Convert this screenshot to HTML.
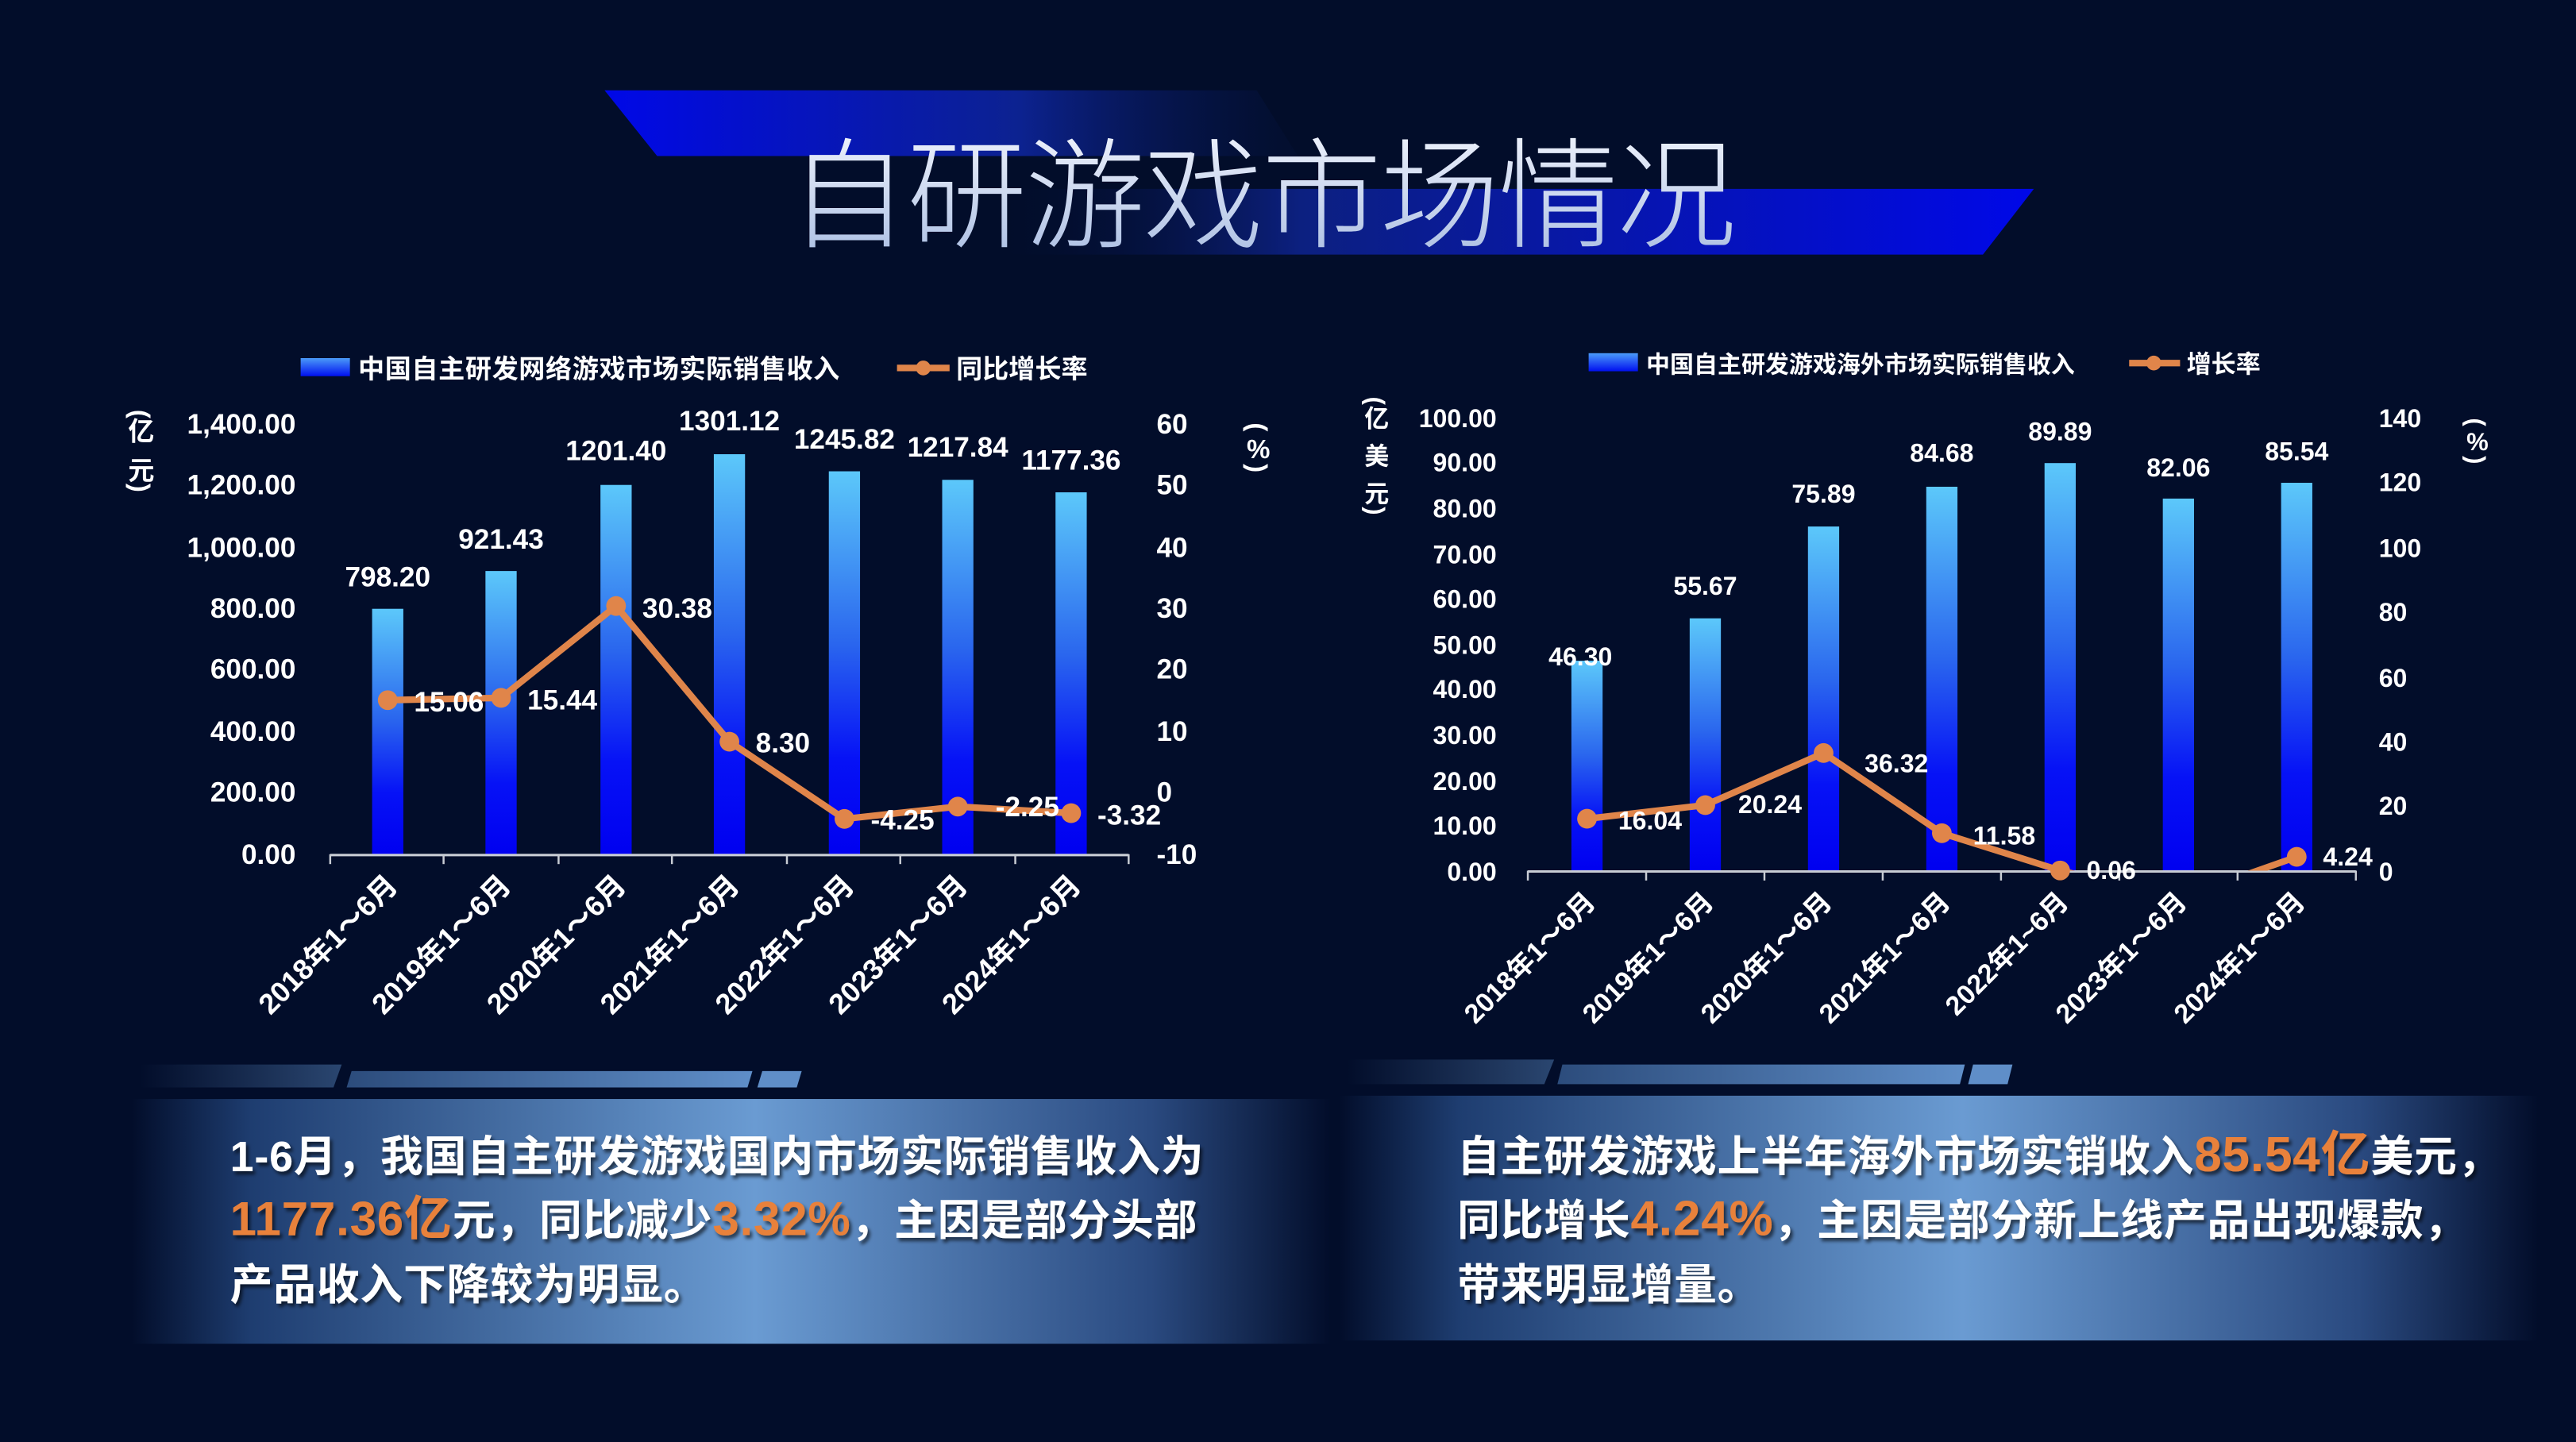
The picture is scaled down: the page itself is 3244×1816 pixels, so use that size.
<!DOCTYPE html>
<html><head><meta charset="utf-8"><style>
html,body{margin:0;padding:0;background:#020d2a;}
svg{display:block}
text{font-family:"Liberation Sans","Noto Sans CJK SC",sans-serif;}
</style></head><body>
<svg width="3244" height="1816" viewBox="0 0 1568 877.8" preserveAspectRatio="none" xmlns="http://www.w3.org/2000/svg">
<defs>
<linearGradient id="ban1" x1="0" x2="1" y1="0" y2="0"><stop offset="0" stop-color="#0008e8"/><stop offset="0.6" stop-color="#0c2290"/><stop offset="1" stop-color="#041238" stop-opacity="0.3"/></linearGradient>
<linearGradient id="ban2" x1="0" x2="1" y1="0" y2="0"><stop offset="0" stop-color="#020d2a" stop-opacity="0"/><stop offset="0.3" stop-color="#0c2080"/><stop offset="1" stop-color="#0008e8"/></linearGradient>
<linearGradient id="ttl" x1="0" x2="0" y1="0" y2="1"><stop offset="0" stop-color="#eef2fc"/><stop offset="1" stop-color="#a9bde2"/></linearGradient>
<linearGradient id="bar" x1="0" x2="0" y1="0" y2="1"><stop offset="0" stop-color="#5cc8fa"/><stop offset="0.45" stop-color="#2a66ee"/><stop offset="0.75" stop-color="#0612f6"/><stop offset="1" stop-color="#0000f0"/></linearGradient>
<linearGradient id="leg" x1="0" x2="0" y1="0" y2="1"><stop offset="0" stop-color="#4a9af8"/><stop offset="1" stop-color="#0010f0"/></linearGradient>
<linearGradient id="pan" x1="0" x2="1" y1="0" y2="0"><stop offset="0" stop-color="#020d2a"/><stop offset="0.1" stop-color="#1e3d70"/><stop offset="0.52" stop-color="#6a9bd2"/><stop offset="0.85" stop-color="#2a4a80"/><stop offset="1" stop-color="#020d2a"/></linearGradient>
<linearGradient id="dec1" x1="0" x2="1"><stop offset="0" stop-color="#020d2a"/><stop offset="1" stop-color="#2a4670"/></linearGradient>
<linearGradient id="dec2" x1="0" x2="1"><stop offset="0" stop-color="#2c4c7c"/><stop offset="1" stop-color="#5f8ec8"/></linearGradient>
<filter id="sh"><feDropShadow dx="1.5" dy="2" stdDeviation="1" flood-color="#000" flood-opacity="0.6"/></filter>
<clipPath id="rc"><rect x="900" y="200" width="560" height="330"/></clipPath>
</defs>
<rect width="1568" height="878" fill="#020d2a"/>
<polygon points="368,55 765,55 790,95 400,95" fill="url(#ban1)"/>
<polygon points="600,115 1238,115 1207,155 600,155" fill="url(#ban2)"/>
<text x="768" y="145" text-anchor="middle" font-size="73" fill="url(#ttl)" font-weight="300" letter-spacing="-1">自研游戏市场情况</text>

<!-- LEFT CHART -->
<g font-weight="bold" fill="#fff" font-size="16">
<rect x="183" y="218" width="30" height="11" fill="url(#leg)"/>
<text x="218" y="230" font-size="16" letter-spacing="0.3">中国自主研发网络游戏市场实际销售收入</text>
<line x1="546" y1="224" x2="578" y2="224" stroke="#e0854a" stroke-width="4"/><circle cx="562" cy="224" r="4.5" fill="#e0854a"/>
<text x="582" y="230" font-size="16">同比增长率</text>
<g font-size="16" text-anchor="middle">
<text transform="translate(80,252) rotate(90)">(</text><text x="86" y="268">亿</text><text x="86" y="292">元</text><text transform="translate(80,297) rotate(90)">)</text>
<text transform="translate(760,260) rotate(90)">(</text><text x="766" y="279">%</text><text transform="translate(760,285) rotate(90)">)</text></g>
<g text-anchor="end" font-size="17">
<text x="180" y="264">1,400.00</text><text x="180" y="301">1,200.00</text><text x="180" y="339">1,000.00</text><text x="180" y="376">800.00</text><text x="180" y="413">600.00</text><text x="180" y="451">400.00</text><text x="180" y="488">200.00</text><text x="180" y="526">0.00</text>
</g>
<g font-size="17"><text x="704" y="264">60</text><text x="704" y="301">50</text><text x="704" y="339">40</text><text x="704" y="376">30</text><text x="704" y="413">20</text><text x="704" y="451">10</text><text x="704" y="488">0</text><text x="704" y="526">-10</text></g>
<g fill="url(#bar)">
<rect x="226.5" y="370.6" width="19" height="149.4"/><rect x="295.5" y="347.6" width="19" height="172.4"/><rect x="365.5" y="295.2" width="19" height="224.8"/><rect x="434.5" y="276.5" width="19" height="243.5"/><rect x="504.5" y="286.9" width="19" height="233.1"/><rect x="573.5" y="292.1" width="19" height="227.9"/><rect x="642.5" y="299.7" width="19" height="220.3"/>
</g>
<line x1="201" y1="520.5" x2="687" y2="520.5" stroke="#c8ccd4" stroke-width="1.5"/>
<g stroke="#c8ccd4" stroke-width="1.2"><line x1="201" y1="520" x2="201" y2="526"/><line x1="270" y1="520" x2="270" y2="526"/><line x1="340" y1="520" x2="340" y2="526"/><line x1="409" y1="520" x2="409" y2="526"/><line x1="479" y1="520" x2="479" y2="526"/><line x1="548" y1="520" x2="548" y2="526"/><line x1="618" y1="520" x2="618" y2="526"/><line x1="687" y1="520" x2="687" y2="526"/></g>
<g text-anchor="middle" font-size="17"><text x="236" y="357">798.20</text><text x="305" y="334">921.43</text><text x="375" y="280">1201.40</text><text x="444" y="262">1301.12</text><text x="514" y="273">1245.82</text><text x="583" y="278">1217.84</text><text x="652" y="286">1177.36</text></g>
<polyline points="236,426.2 305,424.8 375,368.9 444,451.5 514,498.5 583,491 652,495" fill="none" stroke="#e0854a" stroke-width="4" stroke-linejoin="round"/>
<g fill="#e0854a"><circle cx="236" cy="426.2" r="6"/><circle cx="305" cy="424.8" r="6"/><circle cx="375" cy="368.9" r="6"/><circle cx="444" cy="451.5" r="6"/><circle cx="514" cy="498.5" r="6"/><circle cx="583" cy="491" r="6"/><circle cx="652" cy="495" r="6"/></g>
<g font-size="17"><text x="252" y="433">15.06</text><text x="321" y="432">15.44</text><text x="391" y="376">30.38</text><text x="460" y="458">8.30</text><text x="530" y="505">-4.25</text><text x="606" y="497">-2.25</text><text x="668" y="502">-3.32</text></g>
<g font-size="17.5">
<text transform="translate(243,540) rotate(-45)" text-anchor="end">2018年1～6月</text>
<text transform="translate(312,540) rotate(-45)" text-anchor="end">2019年1～6月</text>
<text transform="translate(382,540) rotate(-45)" text-anchor="end">2020年1～6月</text>
<text transform="translate(451,540) rotate(-45)" text-anchor="end">2021年1～6月</text>
<text transform="translate(521,540) rotate(-45)" text-anchor="end">2022年1～6月</text>
<text transform="translate(590,540) rotate(-45)" text-anchor="end">2023年1～6月</text>
<text transform="translate(659,540) rotate(-45)" text-anchor="end">2024年1～6月</text>
</g>
</g>

<!-- RIGHT CHART -->
<g font-weight="bold" fill="#fff" font-size="15">
<rect x="967" y="215" width="30" height="11" fill="url(#leg)"/>
<text x="1002" y="227" font-size="14.5">中国自主研发游戏海外市场实际销售收入</text>
<line x1="1296" y1="221" x2="1327" y2="221" stroke="#e0854a" stroke-width="4"/><circle cx="1311" cy="221" r="4.5" fill="#e0854a"/>
<text x="1331" y="227" font-size="15">增长率</text>
<g font-size="15" text-anchor="middle">
<text transform="translate(832,244) rotate(90)">(</text><text x="838" y="260">亿</text><text x="838" y="283">美</text><text x="838" y="306">元</text><text transform="translate(832,311) rotate(90)">)</text>
<text transform="translate(1502,257) rotate(90)">(</text><text x="1508" y="274">%</text><text transform="translate(1502,280) rotate(90)">)</text></g>
<g text-anchor="end" font-size="15.5">
<text x="911" y="260">100.00</text><text x="911" y="287">90.00</text><text x="911" y="315">80.00</text><text x="911" y="343">70.00</text><text x="911" y="370">60.00</text><text x="911" y="398">50.00</text><text x="911" y="425">40.00</text><text x="911" y="453">30.00</text><text x="911" y="481">20.00</text><text x="911" y="508">10.00</text><text x="911" y="536">0.00</text>
</g>
<g font-size="15.5"><text x="1448" y="260">140</text><text x="1448" y="299">120</text><text x="1448" y="339">100</text><text x="1448" y="378">80</text><text x="1448" y="418">60</text><text x="1448" y="457">40</text><text x="1448" y="496">20</text><text x="1448" y="536">0</text></g>
<g fill="url(#bar)">
<rect x="956.5" y="402.2" width="19" height="127.8"/><rect x="1028.5" y="376.4" width="19" height="153.6"/><rect x="1100.5" y="320.5" width="19" height="209.5"/><rect x="1172.5" y="296.3" width="19" height="233.7"/><rect x="1244.5" y="281.9" width="19" height="248.1"/><rect x="1316.5" y="303.5" width="19" height="226.5"/><rect x="1388.5" y="293.9" width="19" height="236.1"/>
</g>
<line x1="930" y1="530.5" x2="1434" y2="530.5" stroke="#c8ccd4" stroke-width="1.5"/>
<g stroke="#c8ccd4" stroke-width="1.2"><line x1="930" y1="530" x2="930" y2="536"/><line x1="1002" y1="530" x2="1002" y2="536"/><line x1="1074" y1="530" x2="1074" y2="536"/><line x1="1146" y1="530" x2="1146" y2="536"/><line x1="1218" y1="530" x2="1218" y2="536"/><line x1="1290" y1="530" x2="1290" y2="536"/><line x1="1362" y1="530" x2="1362" y2="536"/><line x1="1434" y1="530" x2="1434" y2="536"/></g>
<g text-anchor="middle" font-size="15.5"><text x="962" y="405">46.30</text><text x="1038" y="362">55.67</text><text x="1110" y="306">75.89</text><text x="1182" y="281">84.68</text><text x="1254" y="268">89.89</text><text x="1326" y="290">82.06</text><text x="1398" y="280">85.54</text></g>
<g clip-path="url(#rc)">
<polyline points="966,498.4 1038,490.1 1110,458.4 1182,507.2 1254,529.9 1326,547 1398,521.6" fill="none" stroke="#e0854a" stroke-width="4" stroke-linejoin="round"/>
</g>
<g fill="#e0854a"><circle cx="966" cy="498.4" r="6"/><circle cx="1038" cy="490.1" r="6"/><circle cx="1110" cy="458.4" r="6"/><circle cx="1182" cy="507.2" r="6"/><circle cx="1254" cy="529.9" r="6"/><circle cx="1398" cy="521.6" r="6"/></g>
<g font-size="15.5"><text x="985" y="505">16.04</text><text x="1058" y="495">20.24</text><text x="1135" y="470">36.32</text><text x="1201" y="514">11.58</text><text x="1270" y="535">0.06</text><text x="1414" y="527">4.24</text></g>
<g font-size="16.5">
<text transform="translate(972,550) rotate(-45)" text-anchor="end">2018年1～6月</text>
<text transform="translate(1044,550) rotate(-45)" text-anchor="end">2019年1～6月</text>
<text transform="translate(1116,550) rotate(-45)" text-anchor="end">2020年1～6月</text>
<text transform="translate(1188,550) rotate(-45)" text-anchor="end">2021年1～6月</text>
<text transform="translate(1260,550) rotate(-45)" text-anchor="end">2022年1~6月</text>
<text transform="translate(1332,550) rotate(-45)" text-anchor="end">2023年1～6月</text>
<text transform="translate(1404,550) rotate(-45)" text-anchor="end">2024年1～6月</text>
</g>
</g>

<polygon points="85,648 208,648 203,662 85,662" fill="url(#dec1)"/>
<polygon points="214,652 458,652 455,662 211,662" fill="url(#dec2)"/>
<polygon points="464,652 488,652 485,662 461,662" fill="#5f8ec8"/>
<polygon points="820,645 946,645 940,660 820,660" fill="url(#dec1)"/>
<polygon points="951,648 1196,648 1193,660 948,660" fill="url(#dec2)"/>
<polygon points="1201,648 1225,648 1222,660 1198,660" fill="#5f8ec8"/>
<rect x="80" y="669" width="730" height="149" fill="url(#pan)"/>
<rect x="815" y="667" width="730" height="149" fill="url(#pan)"/>

<g font-weight="bold" font-size="26" fill="#fff" filter="url(#sh)">
<text x="140" y="713" letter-spacing="0.4">1-6月，我国自主研发游戏国内市场实际销售收入为</text>
<text x="140" y="752" letter-spacing="0.4"><tspan fill="#e8813a" font-size="29">1177.36亿</tspan>元，同比减少<tspan fill="#e8813a" font-size="29">3.32%</tspan>，主因是部分头部</text>
<text x="140" y="791" letter-spacing="0.4">产品收入下降较为明显。</text>
<text x="887" y="713" letter-spacing="0.4">自主研发游戏上半年海外市场实销收入<tspan fill="#e8813a" font-size="30">85.54亿</tspan>美元，</text>
<text x="887" y="752" letter-spacing="0.4">同比增长<tspan fill="#e8813a" font-size="30">4.24%</tspan>，主因是部分新上线产品出现爆款，</text>
<text x="887" y="791" letter-spacing="0.4">带来明显增量。</text>
</g>
</svg>
</body></html>
